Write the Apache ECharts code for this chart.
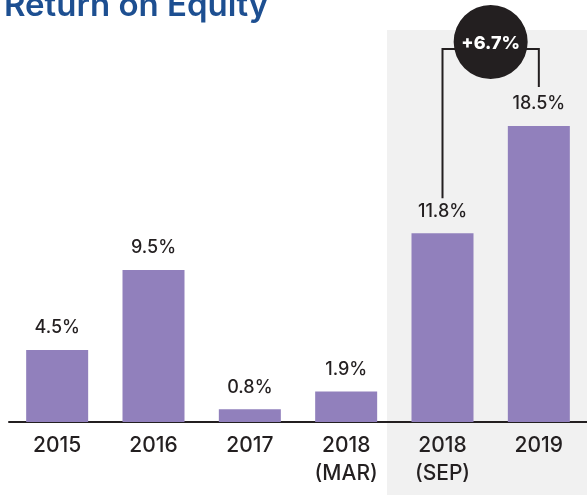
<!DOCTYPE html>
<html>
<head>
<meta charset="utf-8">
<script src="https://cdn.jsdelivr.net/npm/echarts@6/dist/echarts.min.js"></script>
<style>
  html, body { margin: 0; padding: 0; background: #fff; }
  #chart { width: 587px; height: 495px; }
</style>
</head>
<body>
<div id="chart"></div>
<script>
var categories = ['2015', '2016', '2017', '2018\n(MAR)', '2018\n(SEP)', '2019']
var roe = [4.5, 9.5, 0.8, 1.9, 11.8, 18.5]
var compareFrom = 4 // 2018 (SEP)
var compareTo = 5   // 2019

var ink = '#231f20'
var chart = echarts.init(document.getElementById('chart'))

chart.setOption({
  animation: false,
  textStyle: { fontFamily: 'Inter' },
  title: {
    text: 'Return on Equity',
    left: -1,
    top: -15,
    textStyle: { color: '#1d4f91', fontSize: 33, fontWeight: 600, fontFamily: 'Inter' }
  },
  grid: { left: 9, right: 0, top: 102, bottom: 73 },
  xAxis: {
    type: 'category',
    data: categories,
    axisTick: { show: false },
    axisLine: { lineStyle: { color: ink, width: 2 } },
    axisLabel: { color: ink, fontSize: 21, fontWeight: 500, lineHeight: 28, margin: 10, interval: 0 }
  },
  yAxis: {
    type: 'value',
    min: 0,
    max: 20,
    show: false,
    splitLine: { show: false }
  },
  series: [{
    type: 'bar',
    data: roe,
    barWidth: 62,
    itemStyle: { color: '#9180bc' },
    label: {
      show: true,
      position: 'top',
      distance: 13,
      color: ink,
      fontSize: 18,
      fontWeight: 500,
      formatter: function (p) { return p.value.toFixed(1) + '%' }
    }
  }]
})

// shaded band + change bubble
var x1 = chart.convertToPixel({ xAxisIndex: 0 }, compareFrom)
var x2 = chart.convertToPixel({ xAxisIndex: 0 }, compareTo)
var y1 = chart.convertToPixel({ yAxisIndex: 0 }, roe[compareFrom])
var y2 = chart.convertToPixel({ yAxisIndex: 0 }, roe[compareTo])
var cx = (x1 + x2) / 2
var lineY = 49
var diff = (roe[compareTo] - roe[compareFrom]).toFixed(1)

chart.setOption({
  graphic: [
    {
      type: 'rect',
      z: -10,
      shape: { x: 387, y: 30, width: 200, height: 465 },
      style: { fill: '#f1f1f1' }
    },
    {
      type: 'polyline',
      z: 10,
      shape: { points: [[x1, y1 - 35], [x1, lineY], [x2, lineY], [x2, y2 - 39]] },
      style: { stroke: ink, lineWidth: 2, fill: null }
    },
    {
      type: 'circle',
      z: 11,
      shape: { cx: cx, cy: 42, r: 37 },
      style: { fill: ink }
    },
    {
      type: 'text',
      z: 12,
      x: cx,
      y: 44,
      style: {
        text: '+' + diff + '%',
        fill: '#fff',
        font: '800 18px Inter',
        textAlign: 'center',
        textVerticalAlign: 'middle'
      }
    }
  ]
})
</script>
</body>
</html>
